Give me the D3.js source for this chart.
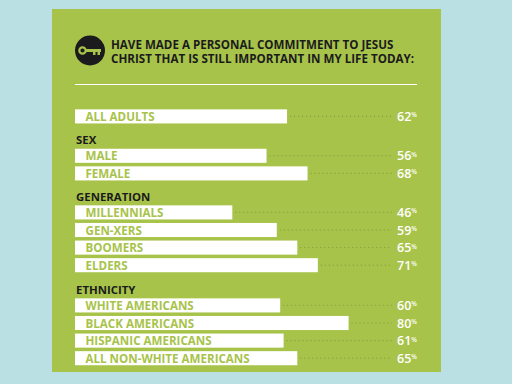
<!DOCTYPE html>
<html lang="en">
<head>
<meta charset="UTF-8">
<title>Personal commitment to Jesus Christ</title>
<script src="https://cdn.jsdelivr.net/npm/d3@7/dist/d3.min.js"></script>
<style>
  html, body { margin: 0; padding: 0; background: #bbe0e3; }
  svg { display: block; font-family: "Open Sans", sans-serif; }
</style>
</head>
<body>
<script>
// data
const titleLines = ['HAVE MADE A PERSONAL COMMITMENT TO JESUS', 'CHRIST THAT IS STILL IMPORTANT IN MY LIFE TODAY:'];
const allLabels = ['ALL ADULTS'];
const allValues = [62];
const sexLabels = ['MALE', 'FEMALE'];
const sexValues = [56, 68];
const genLabels = ['MILLENNIALS', 'GEN-XERS', 'BOOMERS', 'ELDERS'];
const genValues = [46, 59, 65, 71];
const ethLabels = ['WHITE AMERICANS', 'BLACK AMERICANS', 'HISPANIC AMERICANS', 'ALL NON-WHITE AMERICANS'];
const ethValues = [60, 80, 61, 65];

const green = '#a8c34a';
const ink = '#1b1b1d';

const svg = d3.select('body').append('svg')
    .attr('width', 512)
    .attr('height', 384);

svg.append('rect').attr('x', 52).attr('y', 9).attr('width', 389).attr('height', 363).attr('fill', green);

// key badge
const badge = svg.append('g').attr('transform', 'translate(90,50.5)');
badge.append('circle').attr('r', 15).attr('fill', ink);
badge.append('circle').attr('cx', -7.5).attr('cy', 0).attr('r', 3.2)
    .attr('fill', 'none').attr('stroke', green).attr('stroke-width', 2.2);
badge.append('path').attr('d', 'M-4.5,-1.5H11V1.5H10V4.5H7.5V1.5H5.5V4.5H3V1.5H-4.5Z').attr('fill', green);

svg.selectAll('text.title')
    .data(titleLines)
    .enter()
    .append('text')
    .attr('class', 'title')
    .attr('x', 111)
    .attr('y', (d, i) => 48.5 + i * 14)
    .attr('font-size', 11.6)
    .attr('font-weight', 700)
    .attr('fill', ink)
    .text(d => d);

svg.append('line').attr('x1', 75).attr('x2', 417).attr('y1', 84.5).attr('y2', 84.5)
    .attr('stroke', '#fff').attr('stroke-width', 1);

const x = d3.scaleLinear().domain([0, 100]).range([75, 417]);

const groups = [
    { head: null, labels: allLabels, values: allValues, top: 107.6 },
    { head: 'SEX', labels: sexLabels, values: sexValues, top: 147 },
    { head: 'GENERATION', labels: genLabels, values: genValues, top: 203.6 },
    { head: 'ETHNICITY', labels: ethLabels, values: ethValues, top: 296.6 }
];
const step = 17.6;

groups.forEach(function (g) {
    const y = d3.scaleBand()
        .domain(g.labels)
        .range([g.top, g.top + step * g.labels.length])
        .paddingInner(0.2)
        .paddingOuter(0.1);

    if (g.head) {
        svg.append('text')
            .attr('x', 76)
            .attr('y', g.top - 3)
            .attr('font-size', 11.4)
            .attr('font-weight', 700)
            .attr('fill', ink)
            .text(g.head);
    }

    const rows = svg.selectAll('g.row-' + g.labels[0].replace(/\W/g, ''))
        .data(g.labels.map((d, i) => ({ label: d, value: g.values[i] })))
        .enter()
        .append('g');

    // dotted leader
    rows.append('line')
        .attr('x1', d => x(d.value) + 3)
        .attr('x2', 392)
        .attr('y1', d => y(d.label) + y.bandwidth() / 2)
        .attr('y2', d => y(d.label) + y.bandwidth() / 2)
        .attr('stroke', '#7d9638')
        .attr('stroke-width', 1)
        .attr('stroke-dasharray', '1 3');

    rows.append('rect')
        .attr('x', x(0))
        .attr('y', d => y(d.label))
        .attr('width', d => x(d.value) - x(0))
        .attr('height', y.bandwidth())
        .attr('fill', '#fff');

    rows.append('text')
        .attr('x', 85.5)
        .attr('y', d => y(d.label) + y.bandwidth() / 2 + 4.5)
        .attr('font-size', 11.6)
        .attr('font-weight', 700)
        .attr('fill', green)
        .text(d => d.label);

    const val = rows.append('text')
        .attr('x', 397)
        .attr('y', d => y(d.label) + y.bandwidth() / 2 + 4.5)
        .attr('font-size', 12.5)
        .attr('font-weight', 600)
        .attr('fill', '#fff')
        .text(d => d.value);
    val.append('tspan')
        .attr('font-size', 6.5)
        .attr('dy', -3.5)
        .text('%');
});
</script>
</body>
</html>
